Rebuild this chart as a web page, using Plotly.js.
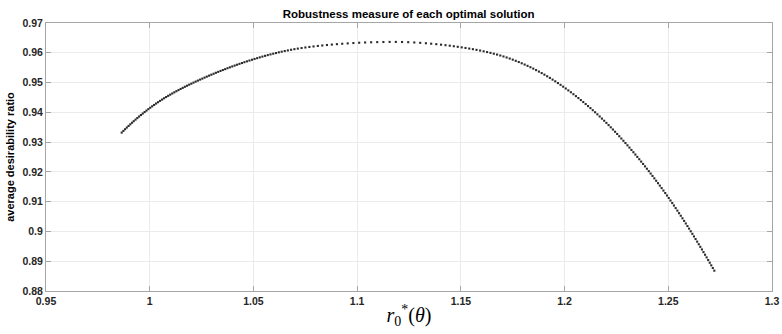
<!DOCTYPE html>
<html>
<head>
<meta charset="utf-8">
<script src="https://cdn.plot.ly/plotly-3.0.1.min.js"></script>
<style>html,body{margin:0;padding:0;background:#fff;}#chart{width:782px;height:334px;}</style>
</head>
<body>
<div id="chart"></div>
<script>
// r0*(theta) values of each optimal solution
const rStar = [
0.9865, 0.98732, 0.98814, 0.98897, 0.9898, 0.99063, 0.99147, 0.99231,
0.99316, 0.99402, 0.99489, 0.99577, 0.99665, 0.99754, 0.99843, 0.99933,
1.00024, 1.00117, 1.00211, 1.00306, 1.00402, 1.00498, 1.00595, 1.00692, 1.0079, 1.00888, 1.00987,
1.01086, 1.01186, 1.01287, 1.01388, 1.0149, 1.01592, 1.01695, 1.01798, 1.01902,
1.02006, 1.02111, 1.02217, 1.02323, 1.0243, 1.02537, 1.02645, 1.02753, 1.02862, 1.02971, 1.03081, 1.03191, 1.03302, 1.03413,
1.03525, 1.03638, 1.03751, 1.03865, 1.0398, 1.04095, 1.04211, 1.04328, 1.04446,
1.04565, 1.04686, 1.04808, 1.04931, 1.05055, 1.0518, 1.05306, 1.05433, 1.05561,
1.05691, 1.05822, 1.05955, 1.06089, 1.06225, 1.06362,
1.0651, 1.0666, 1.06815, 1.06975, 1.0714,
1.0732, 1.07505, 1.07698, 1.07898,
1.08105, 1.0832, 1.08545, 1.0878,
1.09025, 1.0928, 1.09545, 1.09818, 1.10098,
1.10385, 1.10675, 1.10968,
1.11266, 1.11565,
1.11865, 1.12165, 1.12462,
1.12755, 1.1304, 1.13315,
1.1357, 1.13815, 1.14045, 1.1426, 1.14465,
1.1466, 1.1485, 1.1504, 1.15225, 1.15405,
1.1558, 1.15755, 1.15928, 1.16098, 1.16265, 1.16428,
1.16588, 1.16746, 1.16902, 1.17055, 1.17206, 1.17355,
1.17502, 1.17647, 1.17791, 1.17934, 1.18075, 1.18215, 1.18354, 1.18491,
1.18627, 1.18762, 1.18896, 1.19029, 1.19161, 1.19292, 1.19422,
1.19551, 1.19679, 1.19806, 1.19932, 1.20057, 1.20181, 1.20304, 1.20426,
1.20547, 1.20666, 1.20784, 1.20901, 1.21017, 1.21132, 1.21246, 1.21359, 1.21471,
1.21582, 1.21692, 1.21801, 1.21909, 1.22016, 1.22122, 1.22227, 1.22331, 1.22434,
1.22536, 1.22637, 1.22737, 1.22836, 1.22934, 1.23031, 1.23127, 1.23223, 1.23318, 1.23412,
1.23506, 1.236, 1.23693, 1.23786, 1.23878, 1.23969, 1.2406, 1.2415, 1.24239, 1.24328, 1.24416,
1.24504, 1.24592, 1.24679, 1.24766, 1.24852, 1.24937, 1.25022, 1.25106, 1.2519, 1.25273, 1.25356, 1.25438,
1.2552, 1.25602, 1.25683, 1.25764, 1.25844, 1.25924, 1.26003, 1.26082, 1.2616, 1.26238, 1.26315, 1.26392, 1.26469,
1.26545, 1.26621, 1.26697, 1.26773, 1.26848, 1.26923, 1.26998, 1.27072, 1.27146, 1.2722
];

// average desirability ratio
const avgRatio = [
0.9332, 0.93377, 0.93433, 0.93489, 0.93543, 0.93597, 0.93651, 0.93703,
0.93756, 0.93807, 0.93859, 0.9391, 0.9396, 0.94009, 0.94058, 0.94106,
0.94154, 0.94201, 0.94248, 0.94295, 0.9434, 0.94385, 0.94429, 0.94472, 0.94514, 0.94554, 0.94594,
0.94633, 0.94672, 0.9471, 0.94747, 0.94785, 0.94821, 0.94858, 0.94893, 0.94929,
0.94963, 0.94998, 0.95032, 0.95066, 0.951, 0.95133, 0.95166, 0.95199, 0.95232, 0.95264, 0.95296, 0.95328, 0.95359, 0.9539,
0.95421, 0.95451, 0.95482, 0.95511, 0.95541, 0.9557, 0.95599, 0.95628, 0.95656,
0.95684, 0.95712, 0.95739, 0.95766, 0.95793, 0.9582, 0.95846, 0.95872, 0.95897,
0.95922, 0.95946, 0.95969, 0.95992, 0.96015, 0.96036,
0.96059, 0.9608, 0.96101, 0.96121, 0.9614,
0.96159, 0.96178, 0.96196, 0.96213,
0.96229, 0.96245, 0.96261, 0.96275,
0.96289, 0.96303, 0.96315, 0.96327, 0.96337,
0.96346, 0.96353, 0.96358,
0.96362, 0.96365,
0.96365, 0.96362, 0.96356,
0.96346, 0.96334, 0.9632,
0.96305, 0.96289, 0.96272, 0.96255, 0.96238,
0.9622, 0.96201, 0.96182, 0.96161, 0.96141,
0.9612, 0.96097, 0.96074, 0.96049, 0.96023, 0.95997,
0.95969, 0.9594, 0.95909, 0.95876, 0.95842, 0.95806,
0.95769, 0.9573, 0.9569, 0.95648, 0.95605, 0.95561, 0.95515, 0.95468,
0.95419, 0.95369, 0.95318, 0.95265, 0.95211, 0.95156, 0.95099,
0.95041, 0.94983, 0.94923, 0.94862, 0.948, 0.94737, 0.94674, 0.94609,
0.94544, 0.94479, 0.94412, 0.94346, 0.94278, 0.9421, 0.94142, 0.94072, 0.94003,
0.93933, 0.93861, 0.9379, 0.93718, 0.93645, 0.93571, 0.93497, 0.93423, 0.93348,
0.93273, 0.93197, 0.93121, 0.93045, 0.92969, 0.92893, 0.92816, 0.92738, 0.92661, 0.92583,
0.92504, 0.92425, 0.92346, 0.92266, 0.92186, 0.92106, 0.92025, 0.91944, 0.91864, 0.91783, 0.91702,
0.91621, 0.91538, 0.91456, 0.91373, 0.9129, 0.91207, 0.91123, 0.91039, 0.90954, 0.9087, 0.90784, 0.90699,
0.90613, 0.90527, 0.90441, 0.90354, 0.90267, 0.9018, 0.90094, 0.90006, 0.8992, 0.89832, 0.89745, 0.89658, 0.8957,
0.89483, 0.89395, 0.89306, 0.89217, 0.89129, 0.8904, 0.8895, 0.88862, 0.88772, 0.88683
];

const xTickVals = [0.95, 1, 1.05, 1.1, 1.15, 1.2, 1.25, 1.3];
const xTickText = ['0.95', '1', '1.05', '1.1', '1.15', '1.2', '1.25', '1.3'];
const yTickVals = [0.88, 0.89, 0.9, 0.91, 0.92, 0.93, 0.94, 0.95, 0.96, 0.97];
const yTickText = ['0.88', '0.89', '0.9', '0.91', '0.92', '0.93', '0.94', '0.95', '0.96', '0.97'];

const chartTitle = 'Robustness measure of each optimal solution';
const xTitle = '<i>r</i><sub>0</sub><sup>*</sup>(<i>θ</i>)';
const yTitle = 'average desirability ratio';

const tickFont = {family: 'Liberation Sans, Arial, sans-serif', size: 10.5, color: '#262626', weight: 'bold'};

const trace = {
  x: rStar,
  y: avgRatio,
  type: 'scatter',
  mode: 'markers',
  marker: {symbol: 'square', size: 2.1, color: '#2b2b2b', line: {width: 0}},
  hoverinfo: 'x+y'
};

const axisCommon = {
  showline: true,
  linecolor: '#a6a6a6',
  linewidth: 1,
  mirror: 'ticks',
  ticks: 'inside',
  ticklen: 5,
  tickcolor: '#a6a6a6',
  tickwidth: 1,
  showgrid: true,
  gridcolor: '#ebebeb',
  gridwidth: 1,
  zeroline: false,
  tickfont: tickFont,
  automargin: false
};

const layout = {
  width: 782,
  height: 334,
  margin: {l: 46, r: 10, t: 23, b: 43},
  paper_bgcolor: '#ffffff',
  plot_bgcolor: '#ffffff',
  showlegend: false,
  title: {
    text: chartTitle,
    font: {family: 'Liberation Sans, Arial, sans-serif', size: 11.5, color: '#000', weight: 'bold'},
    x: 0.5225, xanchor: 'center', xref: 'container',
    y: 0.958, yanchor: 'middle', yref: 'container'
  },
  xaxis: Object.assign({}, axisCommon, {
    range: [0.95, 1.3],
    tickmode: 'array',
    tickvals: xTickVals,
    ticktext: xTickText,
    title: {text: xTitle, font: {family: 'Liberation Serif, DejaVu Serif, serif', size: 20, color: '#000'}, standoff: 2}
  }),
  yaxis: Object.assign({}, axisCommon, {
    range: [0.88, 0.97],
    tickmode: 'array',
    tickvals: yTickVals,
    ticktext: yTickText,
    title: {text: yTitle, font: {family: 'Liberation Sans, Arial, sans-serif', size: 11, color: '#000', weight: 'bold'}, standoff: 5}
  })
};

Plotly.newPlot('chart', [trace], layout, {displayModeBar: false, staticPlot: true});
</script>
</body>
</html>
